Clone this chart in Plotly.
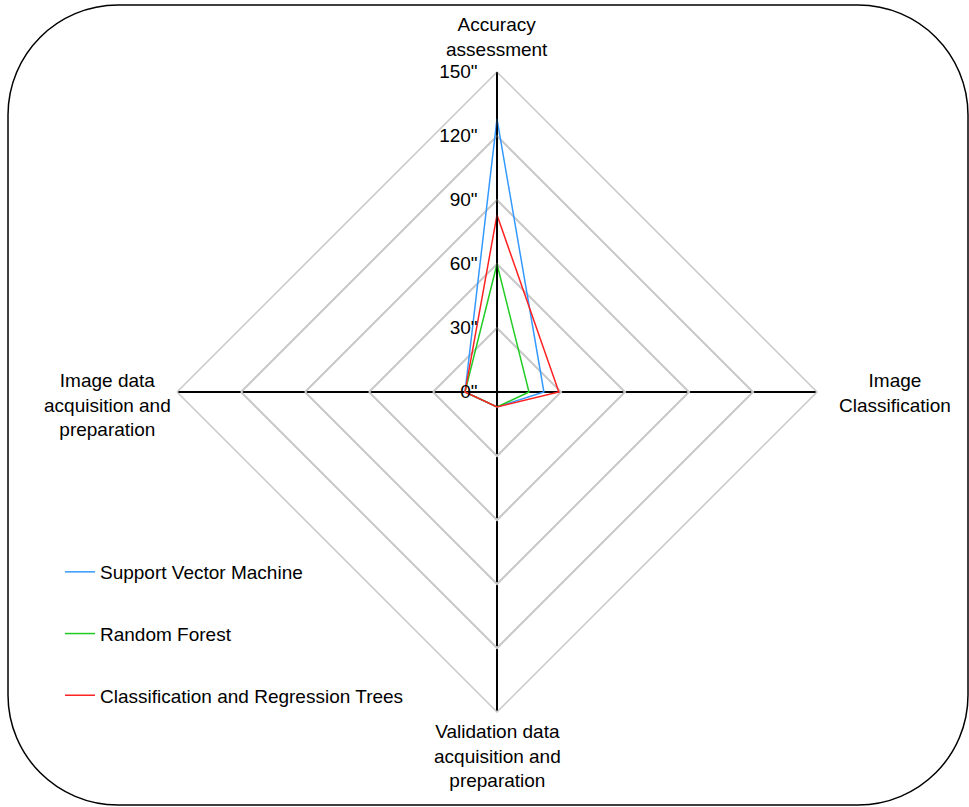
import plotly.graph_objects as go

W, H = 969, 807

categories = [
    "Accuracy assessment",
    "Image Classification",
    "Validation data acquisition and preparation",
    "Image data acquisition and preparation",
]
category_labels = [
    "Accuracy<br>assessment",
    "Image<br>Classification",
    "Validation data<br>acquisition and<br>preparation",
    "Image data<br>acquisition and<br>preparation",
]
svm = [128, 22, 7, 15]
rf = [60, 15, 7, 15]
cart = [83, 29, 7, 15]
radial_ticks = [0, 30, 60, 90, 120, 150]

series = [
    ("Support Vector Machine", svm, "#3399FF"),
    ("Random Forest", rf, "#22CC22"),
    ("Classification and Regression Trees", cart, "#FF2222"),
]

FONT = "Liberation Sans, Arial, Helvetica, sans-serif"
FS = 19

fig = go.Figure()
for name, vals, col in series:
    fig.add_trace(go.Scatterpolar(
        r=vals + vals[:1],
        theta=categories + categories[:1],
        mode="lines",
        name=name,
        legendgroup=name,
        line=dict(color=col, width=1.5),
    ))

# center (497,392), radius 320 px
cx, cy, R = 497, 392, 320
dom_x = [(cx - R) / W, (cx + R) / W]
dom_y = [1 - (cy + R) / H, 1 - (cy - R) / H]

fig.update_layout(
    width=W, height=H,
    margin=dict(l=0, r=0, t=0, b=0),
    paper_bgcolor="white",
    plot_bgcolor="white",
    font=dict(family=FONT, size=FS, color="#000000"),
    polar=dict(
        domain=dict(x=dom_x, y=dom_y),
        bgcolor="white",
        gridshape="linear",
        radialaxis=dict(
            range=[0, 150],
            tickvals=radial_ticks,
            ticktext=[f'{v}"' for v in radial_ticks],
            angle=90,
            side="counterclockwise",
            tickangle=90,
            ticks="outside",
            ticklen=12,
            tickcolor="rgba(0,0,0,0)",
            showline=True,
            linecolor="#000000",
            linewidth=1.5,
            gridcolor="#C8C8C8",
            gridwidth=1.5,
            tickfont=dict(size=FS, family=FONT, color="#000000"),
        ),
        angularaxis=dict(
            categoryarray=categories,
            rotation=90,
            direction="clockwise",
            showticklabels=False,
            ticks="",
            showline=True,
            linecolor="#C8C8C8",
            linewidth=1.5,
            gridcolor="#000000",
            gridwidth=1.5,
        ),
    ),
    legend=dict(
        x=60 / W, y=1 - 553 / H,
        xanchor="left", yanchor="top",
        bgcolor="rgba(0,0,0,0)",
        font=dict(size=FS, family=FONT, color="#000000"),
        tracegroupgap=34,
    ),
    showlegend=True,
)

# category labels
label_pos = [(497, 37), (895, 393), (497, 756), (107, 405)]
for txt, (px, py) in zip(category_labels, label_pos):
    fig.add_annotation(
        x=px / W, y=1 - py / H, xref="paper", yref="paper",
        text=txt, showarrow=False, xanchor="center", yanchor="middle",
        align="center", font=dict(size=FS, family=FONT, color="#000000"),
    )

# rounded border
x0, y0, x1, y1, rr = 8, 5, 968, 805, 110
k = 0.5523 * rr
def P(x, y):
    return f"{x / W:.5f},{1 - y / H:.5f}"
path = (
    f"M {P(x0 + rr, y0)} L {P(x1 - rr, y0)} "
    f"C {P(x1 - rr + k, y0)} {P(x1, y0 + rr - k)} {P(x1, y0 + rr)} "
    f"L {P(x1, y1 - rr)} "
    f"C {P(x1, y1 - rr + k)} {P(x1 - rr + k, y1)} {P(x1 - rr, y1)} "
    f"L {P(x0 + rr, y1)} "
    f"C {P(x0 + rr - k, y1)} {P(x0, y1 - rr + k)} {P(x0, y1 - rr)} "
    f"L {P(x0, y0 + rr)} "
    f"C {P(x0, y0 + rr - k)} {P(x0 + rr - k, y0)} {P(x0 + rr, y0)} Z"
)
fig.add_shape(type="path", path=path, xref="paper", yref="paper",
              line=dict(color="#000000", width=1.5), layer="above")

fig.write_html(
    "out.html",
    config={"displayModeBar": False},
    post_script="document.body.style.margin='0';document.body.style.overflow='hidden';",
)
